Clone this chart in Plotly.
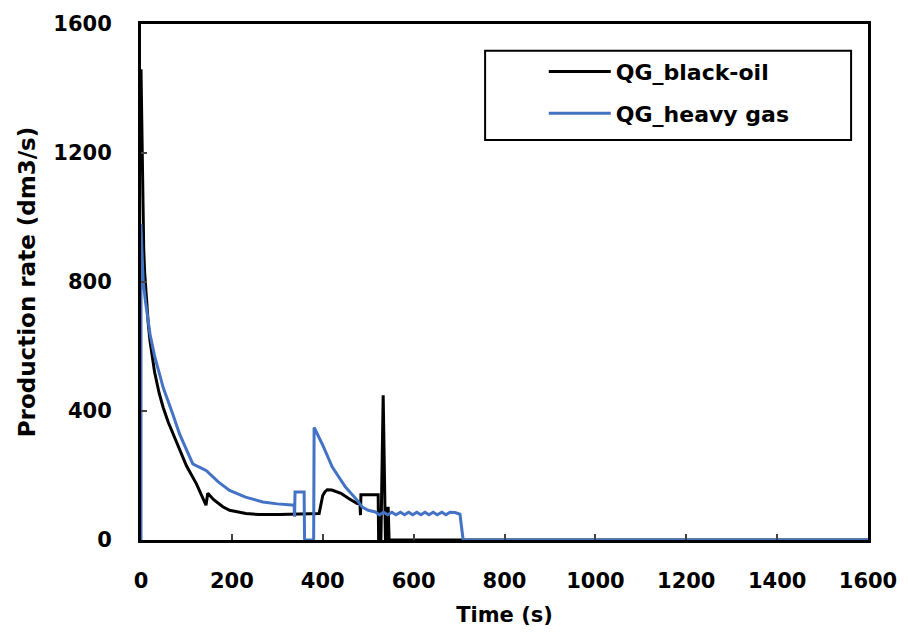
import plotly.graph_objects as go

# QG_black-oil (time s, rate dm3/s)
black_t = [0, 1, 2, 3, 4, 6, 8, 10, 13, 16, 20, 25, 30, 40, 49, 60, 70, 85, 100, 122, 135, 143,
           147, 150, 160, 180, 195, 231, 260, 304, 350, 392, 396, 400, 405, 410, 420, 440, 458,
           476, 482, 483, 484, 522, 523, 528, 533, 536, 538, 540, 542, 544, 546, 548, 556, 1600]
black_q = [1460, 1350, 1200, 1100, 1000, 900, 830, 780, 720, 670, 615, 560, 520, 455, 410, 365, 330, 277, 230, 174, 130, 108,
           145, 140, 125, 103, 92, 82, 79, 79, 80, 82, 110, 138, 150, 156, 155, 145, 128,
           113, 112, 77, 140, 140, 0, 0, 449, 100, 0, 103, 0, 103, 0, 0, 0, 0]

# QG_heavy gas
blue_t = [0, 0.01, 2, 5, 10, 20, 30, 49, 70, 85, 100, 114, 125, 144, 170, 195, 230, 268, 300, 334, 337,
          338, 339, 359, 360, 380, 381, 399, 421, 450, 476, 487, 500, 516, 525,
          534, 543, 552, 561, 571, 580, 589, 598, 607, 616, 625, 634, 643, 652, 662, 671, 680, 691, 702, 709, 1600]
blue_q = [0, 980, 900, 800, 738, 637, 570, 472, 390, 328, 280, 236, 228, 215, 180, 154, 133, 118, 112, 108, 108,
          72, 149, 149, 0, 0, 349, 297, 226, 164, 123, 102, 92, 87, 78,
          86, 78, 86, 78, 86, 78, 86, 78, 86, 78, 86, 78, 86, 78, 86, 78, 86, 85, 80, 0, 0]

x_ticks = [0, 200, 400, 600, 800, 1000, 1200, 1400, 1600]
y_ticks = [0, 400, 800, 1200, 1600]

FONT = "DejaVu Sans"

fig = go.Figure()
fig.add_trace(go.Scatter(x=black_t, y=black_q, mode="lines", name="QG_black-oil",
                         legendgroup="a", line=dict(color="black", width=3)))
fig.add_trace(go.Scatter(x=blue_t, y=blue_q, mode="lines", name="QG_heavy gas",
                         legendgroup="b", line=dict(color="#4472C4", width=3)))

fig.update_layout(
    width=909, height=642,
    margin=dict(l=141, r=36, t=20, b=102),
    paper_bgcolor="white", plot_bgcolor="white",
    font=dict(family=FONT, color="black", size=21, weight="bold"),
    showlegend=True,
    legend=dict(x=(546 - 141) / 731, y=(540 - 47) / 520, xanchor="left", yanchor="top",
                bgcolor="rgba(0,0,0,0)", borderwidth=0,
                font=dict(family=FONT, size=22, color="black", weight="bold"),
                itemwidth=62, tracegroupgap=10),
    shapes=[dict(type="rect", xref="paper", yref="paper",
                 x0=(487 - 141) / 731, x1=(855 - 141) / 731,
                 y0=(540 - 137) / 520, y1=(540 - 47) / 520,
                 line=dict(color="black", width=2), fillcolor="rgba(0,0,0,0)")],
)
fig.update_xaxes(range=[0, 1600], tickvals=x_ticks, ticks="inside", ticklen=6, tickwidth=2,
                 showline=True, linewidth=3, linecolor="black", mirror=True, showgrid=False,
                 zeroline=False, ticklabelstandoff=20,
                 title=dict(text="Time (s)", font=dict(family=FONT, size=21, weight="bold"), standoff=16),
                 tickfont=dict(family=FONT, size=21, weight="bold"))
fig.update_yaxes(range=[0, 1600], tickvals=y_ticks, ticks="inside", ticklen=6, tickwidth=2,
                 showline=True, linewidth=3, linecolor="black", mirror=True, showgrid=False,
                 zeroline=False, ticklabelstandoff=22,
                 title=dict(text="Production rate (dm3/s)", font=dict(family=FONT, size=23, weight="bold"), standoff=12),
                 tickfont=dict(family=FONT, size=21, weight="bold"))

fig.write_html("out.html")
